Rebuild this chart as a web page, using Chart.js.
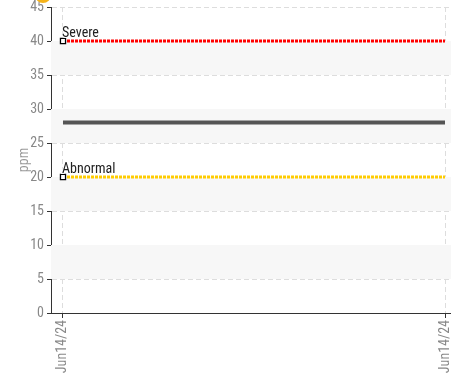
<!DOCTYPE html>
<html>
<head>
<meta charset="utf-8">
<script src="https://cdn.jsdelivr.net/npm/chart.js@4/dist/chart.umd.min.js"></script>
<style>
  html, body { margin: 0; padding: 0; background: #fff; }
  #wrap { width: 451px; height: 377px; position: relative; }
</style>
</head>
<body>
<div id="wrap"><canvas id="myChart"></canvas></div>
<script>
// data
var xLabels = ['Jun14/24', 'Jun14/24'];
var xPoints = [0, 1];
var severeValues = [40, 40];
var abnormalValues = [20, 20];
var readingValues = [28, 28];
var yTicks = [0, 5, 10, 15, 20, 25, 30, 35, 40, 45];

var FONT = "'Roboto Condensed', Roboto, sans-serif";

function toPoints(values) {
    return xPoints.map(function (x, i) { return { x: x, y: values[i] }; });
}

// alternating grey bands behind the plot
var bandsPlugin = {
    id: 'bands',
    beforeDatasetsDraw: function (chart) {
        var ctx = chart.ctx, area = chart.chartArea, y = chart.scales.y;
        ctx.save();
        ctx.fillStyle = '#f7f7f7';
        for (var i = 1; i < yTicks.length - 1; i += 2) {
            var top = y.getPixelForValue(yTicks[i + 1]);
            var bot = y.getPixelForValue(yTicks[i]);
            ctx.fillRect(area.left, top, area.right - area.left, bot - top);
        }
        ctx.restore();
    }
};

// text tag at the first point of the threshold lines
var tagPlugin = {
    id: 'tags',
    afterDatasetsDraw: function (chart) {
        var ctx = chart.ctx;
        ctx.save();
        ctx.font = '14px ' + FONT;
        ctx.textAlign = 'left';
        ctx.textBaseline = 'alphabetic';
        chart.data.datasets.forEach(function (ds, i) {
            if (!ds.tag) return;
            var pt = chart.getDatasetMeta(i).data[0];
            ctx.lineWidth = 2;
            ctx.strokeStyle = 'rgba(255,255,255,0.9)';
            ctx.strokeText(ds.tag, pt.x - 1, pt.y - 4);
            ctx.fillStyle = '#222';
            ctx.fillText(ds.tag, pt.x - 1, pt.y - 4);
        });
        // orange blob cut by the top edge
        ctx.beginPath();
        ctx.fillStyle = '#f5b31a';
        ctx.arc(43, -5, 8, 0, Math.PI * 2);
        ctx.fill();
        ctx.restore();
    }
};

var ctx = document.getElementById('myChart');
new Chart(ctx, {
    type: 'line',
    data: {
        datasets: [{
            label: 'Severe',
            tag: 'Severe',
            data: toPoints(severeValues),
            borderColor: '#ff0000',
            borderWidth: 3,
            borderDash: [3, 1],
            pointStyle: 'rect',
            pointRadius: [3.6, 0],
            pointBackgroundColor: '#fff',
            pointBorderColor: '#000',
            pointBorderWidth: 1.3
        }, {
            label: 'Abnormal',
            tag: 'Abnormal',
            data: toPoints(abnormalValues),
            borderColor: '#ffcc00',
            borderWidth: 3,
            borderDash: [3, 1],
            pointStyle: 'rect',
            pointRadius: [3.6, 0],
            pointBackgroundColor: '#fff',
            pointBorderColor: '#000',
            pointBorderWidth: 1.3
        }, {
            label: 'ppm',
            data: toPoints(readingValues),
            borderColor: '#555',
            borderWidth: 4,
            pointRadius: 0
        }]
    },
    options: {
        responsive: true,
        maintainAspectRatio: false,
        animation: false,
        layout: { autoPadding: false, padding: { top: 7, right: 0, left: 0, bottom: 0 } },
        plugins: {
            legend: { display: false },
            tooltip: { enabled: false }
        },
        scales: {
            x: {
                type: 'linear',
                min: -0.0314,
                max: 1.0157,
                afterBuildTicks: function (scale) {
                    scale.ticks = xPoints.map(function (v) { return { value: v }; });
                },
                afterFit: function (scale) {
                    scale.height = 64;
                    scale.paddingLeft = 0;
                    scale.paddingRight = 0;
                },
                ticks: {
                    autoSkip: false,
                    minRotation: 90,
                    maxRotation: 90,
                    padding: 2,
                    color: '#888',
                    font: { family: FONT, size: 14 },
                    callback: function (v) { return xLabels[xPoints.indexOf(v)]; }
                },
                grid: {
                    color: '#ddd',
                    lineWidth: 1,
                    tickColor: '#333',
                    tickLength: 5,
                    drawOnChartArea: true
                },
                border: { display: true, color: '#333', width: 1, dash: [5, 3] }
            },
            y: {
                min: 0,
                max: 45,
                afterBuildTicks: function (scale) {
                    scale.ticks = yTicks.map(function (v) { return { value: v }; });
                },
                afterFit: function (scale) {
                    scale.width = 51;
                    scale.paddingTop = 0;
                    scale.paddingBottom = 0;
                },
                ticks: {
                    padding: 3,
                    color: '#888',
                    font: { family: FONT, size: 14 }
                },
                title: {
                    display: true,
                    text: 'ppm',
                    color: '#999',
                    font: { family: FONT, size: 14 },
                    padding: { top: 16, bottom: 0 }
                },
                grid: {
                    color: '#ddd',
                    lineWidth: 1,
                    tickColor: '#333',
                    tickLength: 4
                },
                border: { display: true, color: '#333', width: 1, dash: [5, 3] }
            }
        }
    },
    plugins: [bandsPlugin, tagPlugin]
});
</script>
</body>
</html>
